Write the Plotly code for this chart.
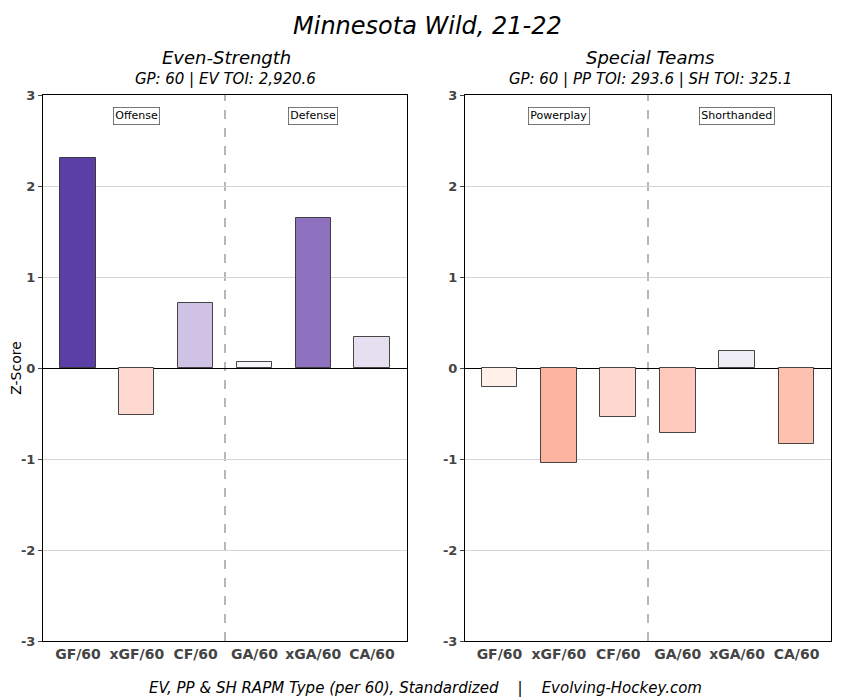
import plotly.graph_objects as go

categories = ["GF/60", "xGF/60", "CF/60", "GA/60", "xGA/60", "CA/60"]
ev_values = [2.31, -0.52, 0.71, 0.07, 1.65, 0.34]
st_values = [-0.21, -1.04, -0.54, -0.71, 0.19, -0.84]
ev_labels = ["Offense", "Defense"]
st_labels = ["Powerplay", "Shorthanded"]
title = "Minnesota Wild, 21-22"
ev_title = "Even-Strength"
ev_sub = "GP: 60 | EV TOI: 2,920.6"
st_title = "Special Teams"
st_sub = "GP: 60 | PP TOI: 293.6 | SH TOI: 325.1"
footer = "EV, PP & SH RAPM Type (per 60), Standardized    |    Evolving-Hockey.com"
y_ticks = [-3, -2, -1, 0, 1, 2, 3]
y_tick_text = ["-3", "-2", "-1", "0", "1", "2", "3"]

ev_colors = ["#5b3ea6", "#fed9d0", "#cfc2e4", "#f7f6fa", "#8e72c0", "#e5dff0"]
st_colors = ["#fff0ea", "#fcb4a0", "#fed8cf", "#fdcabd", "#efedf5", "#fdc1b0"]

FONT = "DejaVu Sans"
OFF = 8  # page body margin
W, H = 850 - OFF, 700 - OFF

def px(x):
    return (x - OFF) / W

def py(y):
    return 1 - (y - OFF) / H

fig = go.Figure()
xi = list(range(len(categories)))
fig.add_trace(go.Bar(x=xi, y=ev_values, marker=dict(color=ev_colors, line=dict(color="rgba(40,40,40,0.85)", width=1)),
                     width=0.6, xaxis="x", yaxis="y", showlegend=False))
fig.add_trace(go.Bar(x=xi, y=st_values, marker=dict(color=st_colors, line=dict(color="rgba(40,40,40,0.85)", width=1)),
                     width=0.6, xaxis="x2", yaxis="y2", showlegend=False))

ydom = [py(641), py(95)]
xcommon = dict(tickmode="array", tickvals=xi, ticktext=categories, showgrid=False, zeroline=False,
               showline=True, linecolor="black", linewidth=1, mirror=True, ticks="",
               tickfont=dict(family=FONT, size=14, color="#444444", weight="bold"), automargin=False)
ycommon = dict(range=[-3, 3], tickmode="array", tickvals=y_ticks, ticktext=y_tick_text,
               showgrid=True, gridcolor="#d5d5d5", gridwidth=1,
               zeroline=True, zerolinecolor="black", zerolinewidth=1.2,
               showline=True, linecolor="black", linewidth=1, mirror=True, ticks="outside", ticklen=4,
               tickcolor="#444444", tickfont=dict(family=FONT, size=13, color="#444444", weight="bold"), automargin=False)

fig.update_layout(
    width=W, height=H, margin=dict(l=0, r=0, t=0, b=0),
    paper_bgcolor="white", plot_bgcolor="white", bargap=0,
    xaxis=dict(domain=[px(43), px(407)], range=[-0.595, 5.595], anchor="y", **xcommon),
    yaxis=dict(domain=ydom, anchor="x", title=dict(text="Z-Score", font=dict(family=FONT, size=14, color="black"), standoff=14), **ycommon),
    xaxis2=dict(domain=[px(465), px(831)], range=[-0.58, 5.58], anchor="y2", **xcommon),
    yaxis2=dict(domain=ydom, anchor="x2", **ycommon),
)

for xa, ya in (("x", "y"), ("x2", "y2")):
    fig.add_shape(type="line", xref=xa, yref=ya, x0=2.5, x1=2.5, y0=-3, y1=3,
                  line=dict(color="#888888", width=1.2, dash="dash"), layer="below")

for xa, ya, labs in (("x", "y", ev_labels), ("x2", "y2", st_labels)):
    for xv, t in zip([1, 4], labs):
        fig.add_annotation(x=xv, y=2.77, xref=xa, yref=ya, text=t, showarrow=False,
                           font=dict(family=FONT, size=11, color="black"),
                           bordercolor="#555555", borderwidth=0.8, borderpad=1.5, bgcolor="white")

def ptext(x, y, text, size):
    fig.add_annotation(x=px(x), y=py(y), xref="paper", yref="paper", text=text, showarrow=False,
                       xanchor="center", yanchor="middle",
                       font=dict(family=FONT, size=size, color="black", style="italic"))

ptext(427, 26, title, 24)
ptext(227, 57, ev_title, 18)
ptext(226, 79, ev_sub, 15)
ptext(650, 57, st_title, 18)
ptext(650, 79, st_sub, 15)
ptext(425, 688, footer, 15)

fig.write_html("out.html")
